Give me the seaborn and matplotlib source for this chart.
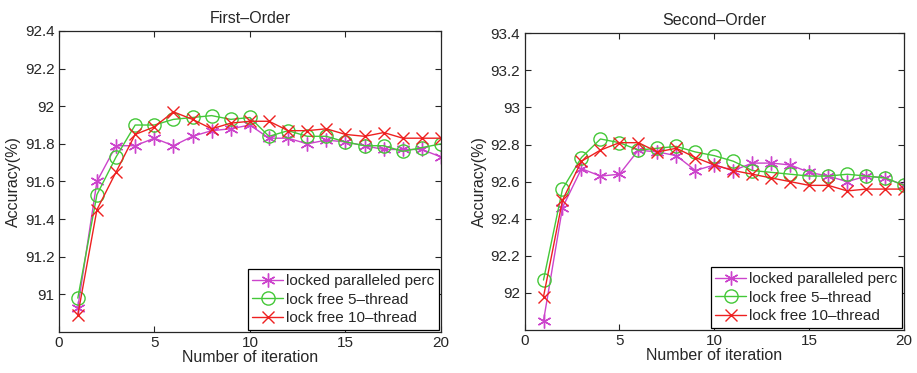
import matplotlib
matplotlib.use('Agg')
import matplotlib.pyplot as plt
import seaborn as sns
import pandas as pd

iterations = list(range(1, 21))
labels = ['locked paralleled perc', 'lock free 5\u2013thread', 'lock free 10\u2013thread']

# First-Order
first_locked = [90.93, 91.60, 91.79, 91.79, 91.83, 91.79, 91.84, 91.87, 91.88, 91.90,
                91.83, 91.83, 91.80, 91.82, 91.81, 91.79, 91.77, 91.77, 91.77, 91.73]
first_free5 = [90.98, 91.53, 91.73, 91.90, 91.90, 91.93, 91.94, 91.95, 91.93, 91.94,
               91.84, 91.87, 91.84, 91.84, 91.81, 91.79, 91.79, 91.76, 91.78, 91.80]
first_free10 = [90.89, 91.45, 91.65, 91.85, 91.89, 91.97, 91.93, 91.88, 91.91, 91.92,
                91.92, 91.87, 91.87, 91.88, 91.85, 91.84, 91.86, 91.83, 91.83, 91.83]

# Second-Order
second_locked = [91.85, 92.46, 92.67, 92.63, 92.64, 92.77, 92.76, 92.74, 92.66, 92.69,
                 92.66, 92.70, 92.70, 92.69, 92.65, 92.63, 92.60, 92.63, 92.62, 92.58]
second_free5 = [92.07, 92.56, 92.73, 92.83, 92.81, 92.77, 92.78, 92.79, 92.76, 92.74,
                92.71, 92.66, 92.65, 92.64, 92.63, 92.63, 92.64, 92.63, 92.62, 92.58]
second_free10 = [91.98, 92.50, 92.71, 92.77, 92.81, 92.81, 92.76, 92.78, 92.73, 92.69,
                 92.66, 92.64, 92.62, 92.60, 92.58, 92.58, 92.55, 92.56, 92.56, 92.56]

colors = ['#cc44cc', '#44c838', '#ee2020']
markers = [(6, 2, 0), 'o', 'x']
msizes = [10, 9.5, 8]

sns.set_style('ticks')
plt.rcParams['font.family'] = ['Liberation Sans', 'DejaVu Sans']
plt.rcParams['xtick.direction'] = 'in'
plt.rcParams['ytick.direction'] = 'in'
plt.rcParams['xtick.top'] = True
plt.rcParams['ytick.right'] = True

fig = plt.figure(figsize=(9.17, 3.73), dpi=100)
ax1 = fig.add_axes([0.064, 0.110, 0.417, 0.807])
ax2 = fig.add_axes([0.572, 0.115, 0.414, 0.796])

panels = [
    (ax1, 'First\u2013Order', [first_locked, first_free5, first_free10], (90.8, 92.4),
     [91, 91.2, 91.4, 91.6, 91.8, 92, 92.2, 92.4]),
    (ax2, 'Second\u2013Order', [second_locked, second_free5, second_free10], (91.8, 93.4),
     [92, 92.2, 92.4, 92.6, 92.8, 93, 93.2, 93.4]),
]

for ax, title, series, ylim, yticks in panels:
    for vals, lab, c, m, ms in zip(series, labels, colors, markers, msizes):
        df = pd.DataFrame({'x': iterations, 'y': vals})
        sns.lineplot(data=df, x='x', y='y', ax=ax, color=c, marker=m, markersize=ms,
                     markerfacecolor='none', markeredgecolor=c,
                     markeredgewidth=1.0, linewidth=1.0, label=lab)
    ax.set_xlim(0, 20)
    ax.set_ylim(*ylim)
    ax.set_xticks([0, 5, 10, 15, 20])
    ax.set_yticks(yticks)
    ax.set_yticklabels([('%g' % t) for t in yticks])
    ax.tick_params(labelsize=11, length=4, width=0.8, pad=3)
    ax.set_xlabel('Number of iteration', fontsize=11.5, labelpad=0)
    ax.set_ylabel('Accuracy(%)', fontsize=11.5, labelpad=3)
    ax.set_title(title, fontsize=11.5, pad=6)
    for sp in ax.spines.values():
        sp.set_linewidth(0.9)
        sp.set_visible(True)
    leg = ax.legend(loc='lower right', fontsize=11, frameon=True, fancybox=False,
                    borderaxespad=0.15, handlelength=2.0, handletextpad=0.2,
                    labelspacing=0.3, borderpad=0.3)
    leg.get_frame().set_edgecolor('black')
    leg.get_frame().set_linewidth(0.9)
    leg.get_frame().set_alpha(1)

fig.savefig('out.png', dpi=100)
